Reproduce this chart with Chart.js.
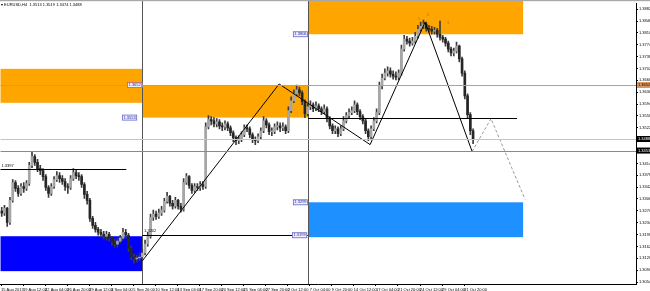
<!DOCTYPE html>
<html>
<head>
<meta charset="utf-8">
<script src="https://cdn.jsdelivr.net/npm/chart.js@4.4.0/dist/chart.umd.min.js"></script>
<style>
  html, body { margin: 0; padding: 0; background: #fff; overflow: hidden; }
  canvas { display: block; }
</style>
</head>
<body>
<canvas id="chart" width="650" height="291"></canvas>
<script>
// EURUSD H4 - each candle here spans 2 H4 bars
const symbolTitle = "\u25BE EURUSD,H4  1.3513 1.3519 1.3474 1.3488";
const BARS_PER_CANDLE = 2;
const BARS_PER_LABEL = 16;

const dateLabels = ["15 Aug 2013", "19 Aug 12:00", "22 Aug 04:00", "26 Aug 20:00", "29 Aug 12:00",
  "3 Sep 04:00", "5 Sep 20:00", "10 Sep 12:00", "13 Sep 04:00", "17 Sep 20:00", "20 Sep 12:00",
  "25 Sep 04:00", "27 Sep 20:00", "2 Oct 12:00", "7 Oct 04:00", "9 Oct 20:00", "14 Oct 12:00",
  "17 Oct 04:00", "21 Oct 20:00", "24 Oct 12:00", "29 Oct 04:00", "31 Oct 20:00"];

const priceTicks = [1.3882, 1.3846, 1.3810, 1.3774, 1.3738, 1.3702, 1.3666, 1.3630, 1.3594, 1.3558,
  1.3522, 1.3486, 1.3450, 1.3414, 1.3378, 1.3342, 1.3306, 1.3270, 1.3234, 1.3198, 1.3162, 1.3126,
  1.3090, 1.3054];

const opens = [
  1.3269, 1.3263, 1.3278, 1.3235, 1.3302, 1.3356, 1.3338, 1.3323, 1.3344, 1.3338,
  1.3353, 1.3408, 1.3435, 1.3417, 1.3398, 1.3392, 1.3374, 1.3341, 1.3323, 1.3344,
  1.3365, 1.3377, 1.3368, 1.3359, 1.3344, 1.3341, 1.3368, 1.3386, 1.3377, 1.3374,
  1.3350, 1.3320, 1.3302, 1.3247, 1.3226, 1.3214, 1.3205, 1.3199, 1.3193, 1.3199,
  1.3187, 1.3175, 1.3169, 1.3178, 1.3187, 1.3205, 1.3196, 1.3157, 1.3130, 1.3124,
  1.3127, 1.3130, 1.3142, 1.3169, 1.3193, 1.3250, 1.3260, 1.3253, 1.3263, 1.3272,
  1.3299, 1.3314, 1.3293, 1.3284, 1.3302, 1.3284, 1.3275, 1.3356, 1.3374, 1.3347,
  1.3332, 1.3344, 1.3341, 1.3350, 1.3344, 1.3525, 1.3547, 1.3543, 1.3534, 1.3540,
  1.3528, 1.3525, 1.3534, 1.3522, 1.3507, 1.3492, 1.3483, 1.3486, 1.3501, 1.3522,
  1.3519, 1.3501, 1.3486, 1.3483, 1.3495, 1.3513, 1.3543, 1.3531, 1.3510, 1.3510,
  1.3525, 1.3528, 1.3522, 1.3525, 1.3513, 1.3574, 1.3604, 1.3625, 1.3637, 1.3628,
  1.3601, 1.3565, 1.3586, 1.3592, 1.3580, 1.3589, 1.3580, 1.3571, 1.3580, 1.3550,
  1.3528, 1.3513, 1.3519, 1.3504, 1.3519, 1.3543, 1.3559, 1.3568, 1.3574, 1.3592,
  1.3571, 1.3556, 1.3543, 1.3513, 1.3495, 1.3519, 1.3543, 1.3568, 1.3649, 1.3673,
  1.3688, 1.3695, 1.3685, 1.3679, 1.3676, 1.3688, 1.3761, 1.3791, 1.3785, 1.3779,
  1.3785, 1.3800, 1.3821, 1.3830, 1.3837, 1.3824, 1.3821, 1.3815, 1.3818, 1.3806,
  1.3797, 1.3791, 1.3779, 1.3761, 1.3749, 1.3755, 1.3770, 1.3731, 1.3688, 1.3619,
  1.3562, 1.3513];

const highs = [
  1.3281, 1.3287, 1.3281, 1.3311, 1.3365, 1.3362, 1.3347, 1.3353, 1.3356, 1.3362,
  1.3417, 1.3450, 1.3441, 1.3426, 1.3408, 1.3398, 1.3380, 1.3347, 1.3353, 1.3374,
  1.3389, 1.3386, 1.3377, 1.3368, 1.3353, 1.3377, 1.3398, 1.3395, 1.3386, 1.3380,
  1.3356, 1.3329, 1.3308, 1.3253, 1.3235, 1.3220, 1.3214, 1.3208, 1.3208, 1.3205,
  1.3193, 1.3184, 1.3187, 1.3196, 1.3217, 1.3214, 1.3202, 1.3163, 1.3139, 1.3136,
  1.3142, 1.3154, 1.3181, 1.3205, 1.3260, 1.3272, 1.3269, 1.3275, 1.3284, 1.3308,
  1.3326, 1.3317, 1.3302, 1.3311, 1.3305, 1.3293, 1.3368, 1.3383, 1.3377, 1.3353,
  1.3353, 1.3353, 1.3359, 1.3359, 1.3537, 1.3559, 1.3556, 1.3553, 1.3550, 1.3547,
  1.3537, 1.3543, 1.3540, 1.3528, 1.3513, 1.3498, 1.3498, 1.3510, 1.3531, 1.3531,
  1.3525, 1.3507, 1.3495, 1.3504, 1.3522, 1.3556, 1.3550, 1.3537, 1.3522, 1.3534,
  1.3540, 1.3537, 1.3537, 1.3531, 1.3586, 1.3616, 1.3637, 1.3652, 1.3646, 1.3634,
  1.3607, 1.3595, 1.3604, 1.3598, 1.3601, 1.3595, 1.3586, 1.3592, 1.3586, 1.3556,
  1.3534, 1.3528, 1.3525, 1.3528, 1.3556, 1.3568, 1.3580, 1.3586, 1.3604, 1.3598,
  1.3577, 1.3562, 1.3550, 1.3519, 1.3528, 1.3553, 1.3580, 1.3661, 1.3685, 1.3701,
  1.3707, 1.3704, 1.3695, 1.3692, 1.3698, 1.3773, 1.3803, 1.3800, 1.3794, 1.3797,
  1.3812, 1.3833, 1.3843, 1.3849, 1.3843, 1.3833, 1.3830, 1.3827, 1.3824, 1.3846,
  1.3803, 1.3797, 1.3785, 1.3767, 1.3764, 1.3782, 1.3773, 1.3737, 1.3695, 1.3625,
  1.3568, 1.3519];

const lows = [
  1.3253, 1.3256, 1.3223, 1.3229, 1.3296, 1.3329, 1.3314, 1.3317, 1.3326, 1.3332,
  1.3347, 1.3401, 1.3408, 1.3389, 1.3380, 1.3362, 1.3332, 1.3311, 1.3317, 1.3338,
  1.3359, 1.3356, 1.3350, 1.3332, 1.3323, 1.3335, 1.3362, 1.3368, 1.3362, 1.3341,
  1.3308, 1.3290, 1.3238, 1.3217, 1.3205, 1.3196, 1.3190, 1.3184, 1.3181, 1.3178,
  1.3166, 1.3160, 1.3160, 1.3172, 1.3181, 1.3187, 1.3148, 1.3121, 1.3111, 1.3114,
  1.3118, 1.3124, 1.3136, 1.3163, 1.3187, 1.3241, 1.3244, 1.3247, 1.3256, 1.3266,
  1.3293, 1.3284, 1.3275, 1.3278, 1.3275, 1.3266, 1.3269, 1.3350, 1.3338, 1.3323,
  1.3326, 1.3332, 1.3332, 1.3335, 1.3338, 1.3519, 1.3531, 1.3525, 1.3525, 1.3519,
  1.3513, 1.3516, 1.3513, 1.3498, 1.3480, 1.3471, 1.3474, 1.3480, 1.3495, 1.3510,
  1.3492, 1.3477, 1.3471, 1.3477, 1.3489, 1.3507, 1.3522, 1.3501, 1.3498, 1.3504,
  1.3516, 1.3510, 1.3513, 1.3504, 1.3507, 1.3568, 1.3598, 1.3619, 1.3619, 1.3592,
  1.3553, 1.3559, 1.3577, 1.3571, 1.3574, 1.3571, 1.3562, 1.3565, 1.3540, 1.3519,
  1.3504, 1.3504, 1.3495, 1.3498, 1.3513, 1.3537, 1.3553, 1.3562, 1.3568, 1.3562,
  1.3547, 1.3534, 1.3504, 1.3483, 1.3489, 1.3513, 1.3537, 1.3562, 1.3640, 1.3667,
  1.3679, 1.3676, 1.3670, 1.3667, 1.3667, 1.3682, 1.3755, 1.3776, 1.3770, 1.3773,
  1.3779, 1.3794, 1.3815, 1.3824, 1.3815, 1.3812, 1.3806, 1.3806, 1.3797, 1.3788,
  1.3782, 1.3770, 1.3752, 1.3740, 1.3740, 1.3749, 1.3722, 1.3679, 1.3610, 1.3553,
  1.3501, 1.3474];

const closes = [
  1.3263, 1.3278, 1.3235, 1.3302, 1.3356, 1.3338, 1.3323, 1.3344, 1.3338, 1.3353,
  1.3408, 1.3435, 1.3417, 1.3398, 1.3392, 1.3374, 1.3341, 1.3323, 1.3344, 1.3365,
  1.3377, 1.3368, 1.3359, 1.3344, 1.3341, 1.3368, 1.3386, 1.3377, 1.3374, 1.3350,
  1.3320, 1.3302, 1.3247, 1.3226, 1.3214, 1.3205, 1.3199, 1.3193, 1.3199, 1.3187,
  1.3175, 1.3169, 1.3178, 1.3187, 1.3205, 1.3196, 1.3157, 1.3130, 1.3124, 1.3127,
  1.3130, 1.3142, 1.3169, 1.3193, 1.3250, 1.3260, 1.3253, 1.3263, 1.3272, 1.3299,
  1.3314, 1.3293, 1.3284, 1.3302, 1.3284, 1.3275, 1.3356, 1.3374, 1.3347, 1.3332,
  1.3344, 1.3341, 1.3350, 1.3344, 1.3525, 1.3547, 1.3543, 1.3534, 1.3540, 1.3528,
  1.3525, 1.3534, 1.3522, 1.3507, 1.3492, 1.3483, 1.3486, 1.3501, 1.3522, 1.3519,
  1.3501, 1.3486, 1.3483, 1.3495, 1.3513, 1.3543, 1.3531, 1.3510, 1.3510, 1.3525,
  1.3528, 1.3522, 1.3525, 1.3513, 1.3574, 1.3604, 1.3625, 1.3637, 1.3628, 1.3601,
  1.3565, 1.3586, 1.3592, 1.3580, 1.3589, 1.3580, 1.3571, 1.3580, 1.3550, 1.3528,
  1.3513, 1.3519, 1.3504, 1.3519, 1.3543, 1.3559, 1.3568, 1.3574, 1.3592, 1.3571,
  1.3556, 1.3543, 1.3513, 1.3495, 1.3519, 1.3543, 1.3568, 1.3649, 1.3673, 1.3688,
  1.3695, 1.3685, 1.3679, 1.3676, 1.3688, 1.3761, 1.3791, 1.3785, 1.3779, 1.3785,
  1.3800, 1.3821, 1.3830, 1.3837, 1.3824, 1.3821, 1.3815, 1.3818, 1.3806, 1.3797,
  1.3791, 1.3779, 1.3761, 1.3749, 1.3755, 1.3770, 1.3731, 1.3688, 1.3619, 1.3562,
  1.3513, 1.3488];

// drawn objects (bar index in H4 bars, price)
const zigzagBars = [102.5, 201.8, 267.8, 307.7, 341.8];
const zigzagPrices = [1.3118, 1.3655, 1.3471, 1.3843, 1.3450];
const projectionBars = [341.8, 355.5, 380.2];
const projectionPrices = [1.3450, 1.3550, 1.3305];

const zones = [
  { from: -0.5, to: 102.5, top: 1.3701, bottom: 1.3598, color: "#ffa500" },
  { from: 102.5, to: 222.8, top: 1.3652, bottom: 1.3553, color: "#ffa500" },
  { from: 222.8, to: 378.8, top: 1.3950, bottom: 1.3806, color: "#ffa500" },
  { from: -0.5, to: 102.5, top: 1.3193, bottom: 1.3087, color: "#0000ff" },
  { from: 222.8, to: 378.8, top: 1.3296, bottom: 1.3190, color: "#1e90ff" }
];

const lastClose = closes[closes.length - 1];
const levels = [
  { price: 1.3652, from: -0.5, to: 470, color: "#d9955f", width: 1 },
  { price: 1.3397, from: -0.5, to: 90.9, color: "#000000", width: 1 },
  { price: 1.3196, from: 102.5, to: 222.8, color: "#000000", width: 1 },
  { price: 1.3553, from: 222.8, to: 374.4, color: "#000000", width: 1.2 },
  { price: lastClose, from: -0.5, to: 470, color: "#c4c4c4", width: 1 },
  { price: 1.3453, from: -0.5, to: 470, color: "#8a8a8a", width: 1 }
];
const separators = [102.5, 222.8];

const tags = [
  { text: "1.3652", bar: 102.5, price: 1.3652, border: "#b85a5a" },
  { text: "1.3553", bar: 98.8, price: 1.3553, border: "#6a6ad0" },
  { text: "1.3806", bar: 222.8, price: 1.3806, border: "#6a6ad0" },
  { text: "1.3299", bar: 222.8, price: 1.3296, border: "#6a6ad0" },
  { text: "1.3199", bar: 222.2, price: 1.3196, border: "#6a6ad0" }
];
const notes = [
  { text: "1.3397", bar: 0.3, price: 1.3407, color: "#000" },
  { text: "1.3202", bar: 103.8, price: 1.3208, color: "#000" },
  { text: "5", bar: 302.6, price: 1.3852, color: "#c06a2a" },
  { text: "6", bar: 309.1, price: 1.3864, color: "#c06a2a" },
  { text: "3", bar: 323.6, price: 1.3840, color: "#c06a2a" }
];
const axisBoxes = [
  { price: 1.3652, bg: "#d9955f", fg: "#000" },
  { price: lastClose, bg: "#000", fg: "#fff" },
  { price: 1.3453, bg: "#000", fg: "#fff" }
];

const FONT = "Liberation Sans";
const candleX = closes.map((c, j) => j * BARS_PER_CANDLE + 0.5);

const overlay = {
  id: "overlay",
  beforeDatasetsDraw(chart) {
    const { ctx, chartArea: a, scales: { x, y } } = chart;
    ctx.save();
    ctx.beginPath();
    ctx.rect(a.left, 0, a.right - a.left, a.bottom);
    ctx.clip();
    zones.forEach(z => {
      const x1 = x.getPixelForValue(z.from), x2 = x.getPixelForValue(z.to);
      const y1 = y.getPixelForValue(z.top), y2 = y.getPixelForValue(z.bottom);
      ctx.fillStyle = z.color;
      ctx.fillRect(x1, y1, x2 - x1, y2 - y1);
    });
    ctx.strokeStyle = "#555";
    ctx.lineWidth = 1;
    separators.forEach(b => {
      const px = Math.round(x.getPixelForValue(b)) + 0.5;
      ctx.beginPath();
      ctx.moveTo(px, 0);
      ctx.lineTo(px, a.bottom);
      ctx.stroke();
    });
    ctx.restore();
  },
  afterDatasetsDraw(chart) {
    const { ctx, chartArea: a, scales: { x, y } } = chart;
    ctx.save();
    ctx.beginPath();
    ctx.rect(a.left, a.top, a.right - a.left, a.bottom - a.top);
    ctx.clip();
    levels.forEach(l => {
      const py = Math.round(y.getPixelForValue(l.price)) + 0.5;
      ctx.strokeStyle = l.color;
      ctx.lineWidth = l.width;
      ctx.beginPath();
      ctx.moveTo(x.getPixelForValue(l.from), py);
      ctx.lineTo(Math.min(x.getPixelForValue(l.to), a.right), py);
      ctx.stroke();
    });
    ctx.font = "4px " + FONT;
    ctx.textBaseline = "middle";
    tags.forEach(t => {
      const right = x.getPixelForValue(t.bar);
      const py = y.getPixelForValue(t.price);
      const w = ctx.measureText(t.text).width + 3;
      ctx.fillStyle = "#eeeeff";
      ctx.fillRect(right - w, py - 3, w, 6);
      ctx.strokeStyle = t.border;
      ctx.lineWidth = 0.8;
      ctx.strokeRect(right - w + 0.5, py - 2.5, w - 1, 5);
      ctx.fillStyle = "#2a2a9a";
      ctx.textAlign = "right";
      ctx.fillText(t.text, right - 1.5, py);
    });
    ctx.textAlign = "left";
    notes.forEach(n => {
      ctx.fillStyle = n.color;
      ctx.fillText(n.text, x.getPixelForValue(n.bar), y.getPixelForValue(n.price));
    });
    ctx.restore();
  },
  afterDraw(chart) {
    const { ctx, chartArea: a, scales: { y } } = chart;
    ctx.save();
    ctx.fillStyle = "#a8a8a8";
    ctx.fillRect(0, 0, chart.width, 1.2);
    ctx.font = "4px " + FONT;
    ctx.textBaseline = "middle";
    ctx.textAlign = "left";
    ctx.fillStyle = "#000";
    ctx.fillText(symbolTitle, 1, 5);
    axisBoxes.forEach(b => {
      const py = y.getPixelForValue(b.price);
      ctx.fillStyle = b.bg;
      ctx.fillRect(a.right + 1, py - 3, chart.width - a.right - 1, 6);
      ctx.fillStyle = b.fg;
      ctx.fillText(b.price.toFixed(4), a.right + 2, py);
    });
    ctx.restore();
  }
};

new Chart(document.getElementById("chart"), {
  type: "bar",
  data: {
    datasets: [
      {
        type: "line",
        data: zigzagBars.map((b, k) => ({ x: b, y: zigzagPrices[k] })),
        borderColor: "#000",
        borderWidth: 1,
        pointRadius: 0,
        tension: 0,
        order: 0
      },
      {
        type: "line",
        data: projectionBars.map((b, k) => ({ x: b, y: projectionPrices[k] })),
        borderColor: "#9a9a9a",
        borderWidth: 1,
        borderDash: [3, 2],
        pointRadius: 0,
        tension: 0,
        order: 0
      },
      {
        data: candleX.map((cx, j) => ({ x: cx, y: [lows[j], highs[j]] })),
        backgroundColor: "#3c3c3c",
        barThickness: 1,
        grouped: false,
        order: 3
      },
      {
        data: candleX.map((cx, j) => ({ x: cx, y: [opens[j], closes[j]] })),
        backgroundColor: ctx => closes[ctx.dataIndex] >= opens[ctx.dataIndex] ? "#a6a6a6" : "#262626",
        barThickness: 2,
        minBarLength: 1,
        grouped: false,
        order: 2
      }
    ]
  },
  options: {
    responsive: false,
    animation: false,
    layout: { padding: { top: 2, left: 0, right: 0, bottom: 0 } },
    plugins: { legend: { display: false }, tooltip: { enabled: false } },
    scales: {
      x: {
        type: "linear",
        min: -0.5,
        max: 460.7,
        offset: false,
        grid: { drawOnChartArea: false, drawTicks: true, tickLength: 2, color: "#000", offset: false },
        border: { color: "#000", width: 1 },
        afterBuildTicks: s => { s.ticks = dateLabels.map((_, k) => ({ value: k * BARS_PER_LABEL })); },
        afterFit: s => { s.height = 7; },
        ticks: {
          autoSkip: false,
          maxRotation: 0,
          align: "start",
          padding: 1,
          color: "#000",
          font: { family: FONT, size: 4 },
          callback: v => dateLabels[Math.round(v / BARS_PER_LABEL)]
        }
      },
      y: {
        position: "right",
        min: 1.3048,
        max: 1.38996,
        grid: { drawOnChartArea: false, drawTicks: true, tickLength: 2, color: "#000" },
        border: { color: "#000", width: 1 },
        afterBuildTicks: s => { s.ticks = priceTicks.map(v => ({ value: v })); },
        afterFit: s => { s.width = 14; },
        ticks: {
          padding: 1,
          color: "#000",
          font: { family: FONT, size: 4 },
          callback: v => v.toFixed(4)
        }
      }
    }
  },
  plugins: [overlay]
});
</script>
</body>
</html>
